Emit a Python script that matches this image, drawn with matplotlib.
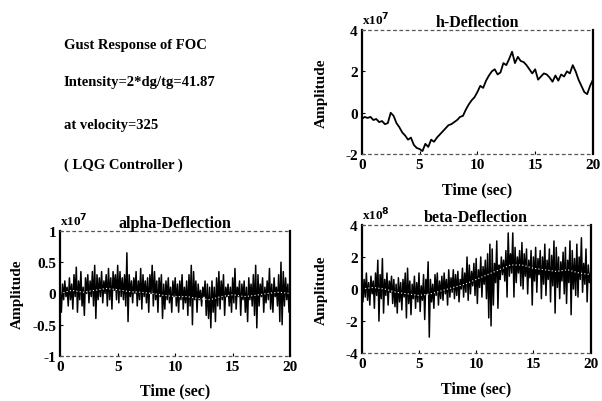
import numpy as np
import matplotlib.pyplot as plt

plt.rcParams['font.family'] = ['Liberation Serif', 'DejaVu Serif']
plt.rcParams['font.weight'] = 'bold'

# h-Deflection, 0.25 s steps (x10^7)
h_defl = [-0.3, -0.2, -0.25, -0.2, -0.35, -0.3, -0.45, -0.4, -0.55, -0.5,
          0.0, -0.15, -0.5, -0.7, -0.95, -1.1, -1.3, -1.2, -1.55, -1.7,
          -1.75, -1.85, -1.5, -1.65, -1.3, -1.4, -1.2, -1.05, -0.9, -0.75,
          -0.6, -0.55, -0.45, -0.35, -0.2, -0.15, 0.15, 0.4, 0.6, 0.75,
          1.0, 1.3, 1.2, 1.55, 1.8, 2.0, 2.1, 1.85, 1.95, 2.4,
          2.3, 2.6, 2.95, 2.4, 2.7, 2.5, 2.45, 2.3, 2.1, 1.9,
          2.1, 1.6, 1.75, 1.9, 1.85, 1.7, 1.5, 1.8, 1.55, 1.85,
          1.75, 2.0, 1.9, 2.3, 2.0, 1.6, 1.3, 1.0, 0.9, 1.3,
          1.6]
h_time = np.linspace(0, 20, len(h_defl))

# alpha-Deflection, 0.1 s steps (x10^7)
alpha_defl = [0.05, -0.30, 0.15, -0.10, 0.20, -0.05, 0.10, -0.20, 0.25, -0.10,
              0.15, -0.25, 0.30, -0.05, 0.42, -0.30, 0.20, -0.10, 0.35, -0.20,
              0.10, -0.35, 0.25, 0.00, 0.30, -0.15, 0.20, -0.05, 0.35, -0.20,
              0.45, -0.40, 0.30, -0.10, 0.25, -0.05, 0.35, -0.15, 0.20, 0.00,
              0.30, -0.20, 0.40, -0.10, 0.25, -0.25, 0.35, 0.05, 0.30, -0.10,
              0.45, -0.15, 0.35, -0.05, 0.25, -0.10, 0.30, -0.20, 0.65, -0.45,
              0.30, -0.05, 0.20, -0.15, 0.25, 0.00, 0.35, -0.20, 0.20, -0.10,
              0.40, -0.25, 0.30, -0.05, 0.20, -0.15, 0.25, -0.30, 0.30, 0.00,
              0.45, -0.20, 0.35, -0.10, 0.20, -0.30, 0.25, -0.05, 0.30, -0.40,
              0.15, -0.25, 0.20, -0.10, 0.25, -0.15, 0.10, -0.30, 0.20, -0.05,
              0.25, -0.20, 0.15, -0.30, 0.20, -0.10, 0.30, -0.25, 0.10, -0.15,
              0.20, -0.35, 0.30, -0.20, 0.45, -0.50, 0.35, -0.10, 0.20, -0.30,
              0.15, -0.10, 0.05, -0.20, 0.10, -0.05, 0.20, -0.35, 0.15, -0.40,
              0.10, -0.55, 0.20, -0.30, 0.10, -0.45, 0.25, -0.20, 0.35, -0.25,
              0.20, -0.10, 0.30, -0.35, 0.10, -0.05, 0.15, -0.20, 0.10, -0.30,
              0.25, -0.15, 0.40, -0.25, 0.10, -0.05, 0.20, -0.35, 0.15, -0.10,
              0.20, -0.30, 0.10, -0.45, 0.25, -0.10, 0.15, -0.20, 0.30, -0.35,
              0.45, -0.55, 0.30, -0.20, 0.15, -0.05, 0.25, -0.30, 0.10, -0.15,
              0.20, -0.10, 0.40, -0.25, 0.15, -0.30, 0.25, -0.05, 0.10, -0.20,
              0.30, -0.45, 0.50, -0.50, 0.35, -0.20, 0.25, -0.10, 0.15, -0.30,
              0.05]
alpha_time = np.linspace(0, 20, len(alpha_defl))
alpha_mean = [0.0, 0.05, 0.02, 0.05, 0.08, 0.06, 0.03, 0.02, 0.0, -0.03, -0.05,
              -0.05, -0.08, -0.1, -0.05, -0.02, -0.05, -0.03, 0.0, 0.02, 0.0]

# beta-Deflection, 0.1 s steps (x10^8)
beta_defl = [0.3, -0.8, 0.6, -0.5, 1.0, -0.7, 0.4, -1.0, 0.8, -0.3,
             0.5, -1.2, 1.0, -0.4, 1.8, -2.0, 0.9, -0.6, 1.9, -1.5,
             0.6, -0.4, 1.0, -1.0, 0.5, -0.2, 0.8, -0.9, 0.6, -1.1,
             0.3, -1.5, 0.7, -0.8, 0.4, -1.3, 0.6, -0.5, 1.0, -1.8,
             1.3, -0.9, 0.5, -1.6, 0.3, -0.6, 0.8, -1.2, 0.4, -0.8,
             1.0, -1.4, 0.2, -0.7, 0.9, -1.9, 0.6, -0.3, 1.7, -3.0,
             0.6, -0.8, 0.3, -1.2, 0.9, -0.4, 1.0, -1.0, 0.5, -0.6,
             0.8, -0.7, 1.0, -0.3, 0.6, -1.0, 1.2, -0.5, 0.7, -0.2,
             1.2, -0.6, 0.9, -0.4, 1.1, -0.8, 0.6, 0.0, 1.3, -0.5,
             1.0, -0.2, 2.0, -0.7, 1.5, -0.3, 1.1, 0.2, 1.6, -0.4,
             1.9, -0.9, 1.2, 0.1, 2.0, -0.5, 1.4, 0.3, 1.8, -0.6,
             2.2, -1.8, 2.8, -2.3, 2.5, -1.0, 1.6, 0.4, 3.0, -1.2,
             1.5, 0.6, 2.0, 0.9, 1.8, 0.5, 2.4, -0.5, 3.5, 0.8,
             2.2, 1.0, 3.5, -0.5, 2.6, 0.4, 2.0, 1.0, 2.4, 0.2,
             2.9, 0.0, 2.2, 0.8, 2.5, -0.3, 1.8, 0.7, 2.4, -1.0,
             2.0, 0.5, 2.6, -0.2, 1.9, 0.9, 2.4, -0.6, 2.0, 0.3,
             2.8, -0.4, 1.8, 0.6, 2.5, -0.8, 2.1, 0.2, 3.0, -1.5,
             2.6, 0.1, 2.0, -0.6, 1.7, 0.5, 2.3, -0.3, 2.6, -0.9,
             1.8, 0.4, 3.0, -1.6, 2.4, 0.0, 1.9, -0.4, 2.8, -0.5,
             2.0, 0.6, 3.2, -0.2, 1.6, 0.3, 2.5, -0.8, 1.5, 0.4,
             1.0]
beta_time = np.linspace(0, 20, len(beta_defl))
beta_mean = [0.0, 0.1, 0.0, -0.2, -0.3, -0.4, -0.3, -0.1, 0.1, 0.3, 0.6,
             0.9, 1.2, 1.5, 1.5, 1.3, 1.2, 1.1, 1.2, 1.0, 0.9]

x_ticks = [0, 5, 10, 15, 20]


def style_axes(ax, title, expo, ylim, yticks, yticklabels, ypad=12):
    ax.set_xlim(0, 20)
    ax.set_ylim(*ylim)
    ax.set_xticks(x_ticks)
    ax.set_yticks(yticks)
    ax.set_yticklabels(yticklabels)
    ax.tick_params(direction='in', length=2, labelsize=11, pad=3)
    for s in ['left', 'right']:
        ax.spines[s].set_linewidth(1.6)
    for s in ['top', 'bottom']:
        ax.spines[s].set_linestyle((0, (2, 3)))
        ax.spines[s].set_color('#555555')
        ax.spines[s].set_linewidth(0.9)
    ax.set_title(title, fontsize=11.5, fontweight='bold', pad=3)
    ax.text(0.0, 1.02, expo, transform=ax.transAxes, fontsize=9.5,
            fontweight='bold', ha='left', va='bottom')
    ax.set_xlabel('Time (sec)', fontsize=11.5, fontweight='bold', labelpad=7)
    ax.set_ylabel('Amplitude', fontsize=11, fontweight='bold', labelpad=ypad)


fig = plt.figure(figsize=(6.02, 4.02), dpi=100)

# text block
lines = ['Gust Response of FOC', 'Intensity=2*dg/tg=41.87',
         'at velocity=325', '( LQG Controller )']
for txt, yy in zip(lines, [0.888, 0.796, 0.689, 0.590]):
    fig.text(0.106, yy, txt, fontsize=10.5, fontweight='bold', va='center')

ax1 = fig.add_axes([0.601, 0.614, 0.384, 0.309])
ax1.plot(h_time, h_defl, color='black', lw=1.3)
style_axes(ax1, 'h-Deflection', 'x10$^7$', (-2, 4), [-2, 0, 2, 4],
           ['-2', '0', '2', '4'])

ax2 = fig.add_axes([0.100, 0.112, 0.382, 0.311])
ax2.plot(alpha_time, alpha_defl, color='black', lw=1.1)
ax2.plot(np.linspace(0, 20, len(alpha_mean)), alpha_mean, color='white',
         lw=0.8, ls=(0, (1, 2)))
style_axes(ax2, 'alpha-Deflection', 'x10$^7$', (-1, 1),
           [-1, -0.5, 0, 0.5, 1], ['-1', '-0.5', '0', '0.5', '1'], ypad=6)

ax3 = fig.add_axes([0.601, 0.119, 0.380, 0.319])
ax3.plot(beta_time, beta_defl, color='black', lw=1.1)
ax3.plot(np.linspace(0, 20, len(beta_mean)), beta_mean, color='white',
         lw=0.8, ls=(0, (1, 2)))
style_axes(ax3, 'beta-Deflection', 'x10$^8$', (-4, 4), [-4, -2, 0, 2, 4],
           ['-4', '-2', '0', '2', '4'])

fig.savefig('out.png', dpi=100)
